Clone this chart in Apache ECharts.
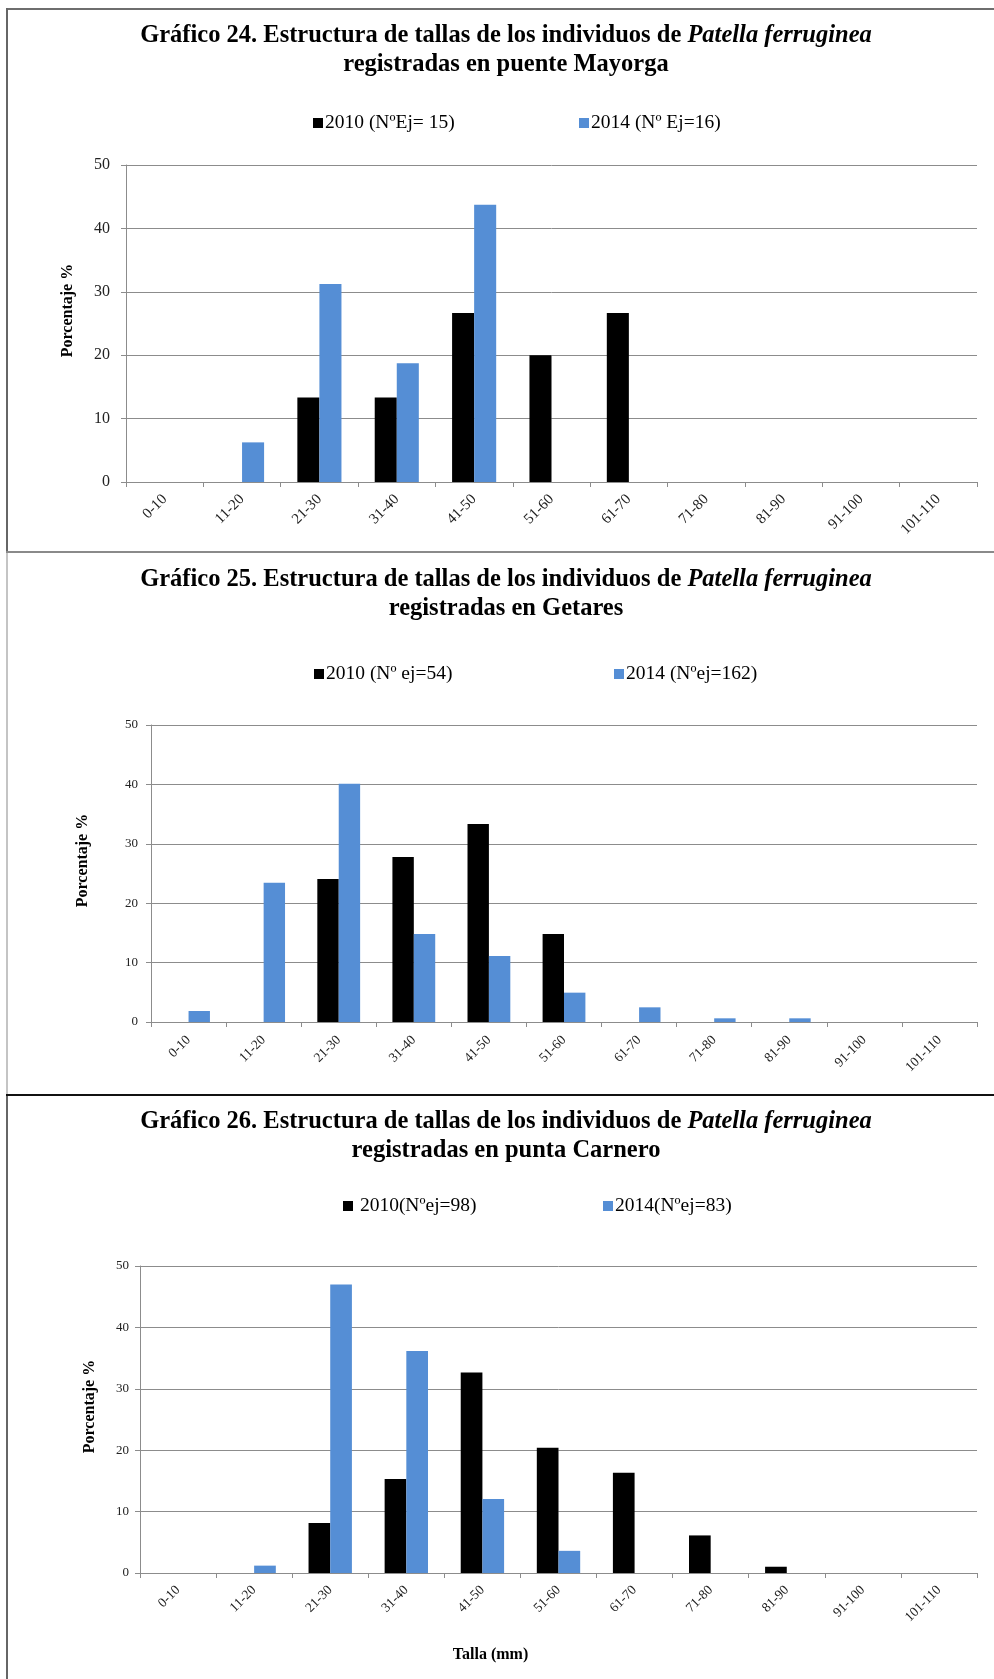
<!DOCTYPE html>
<html>
<head>
<meta charset="utf-8">
<title>Estructura de tallas de Patella ferruginea</title>
<script src="https://cdn.jsdelivr.net/npm/echarts@6/dist/echarts.min.js"></script>
<style>
  html, body { margin: 0; padding: 0; background: #ffffff; }
  #chart { width: 994px; height: 1679px; }
</style>
</head>
<body>
<div id="chart"></div>
<script>
// Size classes (mm)
const categories = ['0-10', '11-20', '21-30', '31-40', '41-50', '51-60', '61-70', '71-80', '81-90', '91-100', '101-110'];

// Percentage of individuals per size class
const mayorga2010 = [0, 0, 13.33, 13.33, 26.67, 20.0, 26.67, 0, 0, 0, 0];
const mayorga2014 = [0, 6.25, 31.25, 18.75, 43.75, 0, 0, 0, 0, 0, 0];
const getares2010 = [0, 0, 24.07, 27.78, 33.33, 14.81, 0, 0, 0, 0, 0];
const getares2014 = [1.85, 23.46, 40.12, 14.81, 11.11, 4.94, 2.47, 0.62, 0.62, 0, 0];
const carnero2010 = [0, 0, 8.16, 15.31, 32.65, 20.41, 16.33, 6.12, 1.02, 0, 0];
const carnero2014 = [0, 1.2, 46.99, 36.14, 12.05, 3.61, 0, 0, 0, 0, 0];

// Series names shown in each legend
const names24 = ['2010 (NºEj= 15)', '2014 (Nº Ej=16)'];
const names25 = ['2010 (Nº ej=54)', '2014 (Nºej=162)'];
const names26 = ['2010(Nºej=98)', '2014(Nºej=83)'];

// Y axis ticks
const yMin = 0, yMax = 50, yStep = 10;

const BLACK = '#000000';
const BLUE = '#558ed5';
const GRID_LINE = '#8c8c8c';
const SERIF = '"Liberation Serif", "Times New Roman", serif';

const chart = echarts.init(document.getElementById('chart'), null, { renderer: 'canvas' });

function titleBlock(num, place, top) {
  return {
    left: 501, top: top, textAlign: 'center',
    text: '{b|Gráfico ' + num + '. Estructura de tallas de los individuos de }{i|Patella ferruginea}\n{b|registradas en ' + place + '}',
    textStyle: {
      rich: {
        b: { fontFamily: SERIF, fontWeight: 'bold', fontSize: 24.5, color: '#000', lineHeight: 29 },
        i: { fontFamily: SERIF, fontWeight: 'bold', fontStyle: 'italic', fontSize: 24.5, color: '#000', lineHeight: 29 }
      }
    }
  };
}

function legendItem(name, left, top, fmt) {
  return {
    data: [name], left: left, top: top, orient: 'horizontal',
    icon: 'rect', itemWidth: 10, itemHeight: 10, itemGap: 0,
    formatter: fmt || '{name}',
    textStyle: { fontFamily: SERIF, fontSize: 19.5, color: '#000', padding: [0, 0, 0, -3] },
    selectedMode: false
  };
}

function xAxisFor(gridIndex, fontSize, margin) {
  return {
    type: 'category', gridIndex: gridIndex, data: categories,
    axisLine: { lineStyle: { color: GRID_LINE, width: 1 } },
    axisTick: { show: true, alignWithLabel: false, length: 5, lineStyle: { color: GRID_LINE } },
    axisLabel: { rotate: 45, fontFamily: SERIF, fontSize: fontSize, color: '#222', margin: margin, interval: 0 },
    splitLine: { show: false }
  };
}

function yAxisFor(gridIndex, fontSize, nameGap, margin) {
  return {
    type: 'value', gridIndex: gridIndex, min: yMin, max: yMax, interval: yStep,
    name: 'Porcentaje %', nameLocation: 'middle', nameGap: nameGap, nameRotate: 90,
    nameTextStyle: { fontFamily: SERIF, fontWeight: 'bold', fontSize: 16, color: '#000', padding: [0, 0, 0, 26] },
    axisLine: { show: true, lineStyle: { color: GRID_LINE, width: 1 } },
    axisTick: { show: true, length: 5, lineStyle: { color: GRID_LINE } },
    axisLabel: { fontFamily: SERIF, fontSize: fontSize, color: '#222', margin: margin },
    splitLine: { show: true, lineStyle: { color: GRID_LINE, width: 1 } }
  };
}

function barSeries(name, data, idx, color) {
  return {
    type: 'bar', name: name, data: data,
    xAxisIndex: idx, yAxisIndex: idx,
    barGap: '0%', barCategoryGap: '43%',
    itemStyle: { color: color },
    emphasis: { disabled: true },
    animation: false
  };
}

const option = {
  backgroundColor: '#ffffff',
  animation: false,
  title: [
    titleBlock(24, 'puente Mayorga', 16),
    titleBlock(25, 'Getares', 560),
    titleBlock(26, 'punta Carnero', 1102)
  ],
  legend: [
    legendItem(names24[0], 308, 108),
    legendItem(names24[1], 574, 108),
    legendItem(names25[0], 309, 659),
    legendItem(names25[1], 609, 659),
    legendItem(names26[0], 338, 1191, ' {name}'),
    legendItem(names26[1], 598, 1191)
  ],
  grid: [
    { left: 126, top: 165, width: 851, height: 317, containLabel: false },
    { left: 151, top: 725, width: 826, height: 297, containLabel: false },
    { left: 140, top: 1266, width: 837, height: 307, containLabel: false }
  ],
  xAxis: [
    xAxisFor(0, 15, 15),
    xAxisFor(1, 13.5, 16),
    Object.assign(xAxisFor(2, 13.5, 15), {
      name: 'Talla (mm)', nameLocation: 'middle', nameGap: 74,
      nameTextStyle: { fontFamily: SERIF, fontWeight: 'bold', fontSize: 16, color: '#000', padding: [0, 136, 0, 0] }
    })
  ],
  yAxis: [
    yAxisFor(0, 16, 50, 16),
    yAxisFor(1, 13, 60, 13),
    yAxisFor(2, 13, 42, 11)
  ],
  series: [
    barSeries(names24[0], mayorga2010, 0, BLACK),
    barSeries(names24[1], mayorga2014, 0, BLUE),
    barSeries(names25[0], getares2010, 1, BLACK),
    barSeries(names25[1], getares2014, 1, BLUE),
    barSeries(names26[0], carnero2010, 2, BLACK),
    barSeries(names26[1], carnero2014, 2, BLUE)
  ],
  // Frames around the three chart panels
  graphic: [
    { type: 'line', shape: { x1: 6, y1: 9, x2: 994, y2: 9 }, style: { stroke: '#6e6e6e', lineWidth: 2 }, silent: true },
    { type: 'line', shape: { x1: 7, y1: 8, x2: 7, y2: 552 }, style: { stroke: '#666666', lineWidth: 2 }, silent: true },
    { type: 'line', shape: { x1: 6, y1: 552, x2: 994, y2: 552 }, style: { stroke: '#8a8a8a', lineWidth: 2 }, silent: true },
    { type: 'line', shape: { x1: 7, y1: 553, x2: 7, y2: 1095 }, style: { stroke: '#c4c4c4', lineWidth: 2 }, silent: true },
    { type: 'line', shape: { x1: 6, y1: 1095, x2: 994, y2: 1095 }, style: { stroke: '#111111', lineWidth: 2 }, silent: true },
    { type: 'line', shape: { x1: 7, y1: 1096, x2: 7, y2: 1679 }, style: { stroke: '#666666', lineWidth: 2 }, silent: true }
  ]
};

chart.setOption(option);
</script>
</body>
</html>
